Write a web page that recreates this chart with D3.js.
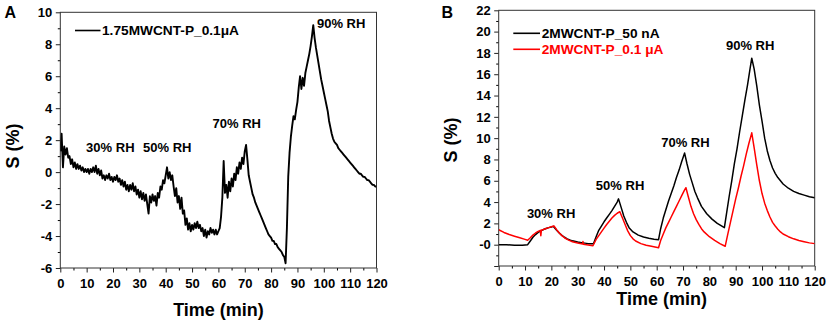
<!DOCTYPE html>
<html><head><meta charset="utf-8">
<script src="https://cdn.jsdelivr.net/npm/d3@7"></script>
<style>
html,body{margin:0;padding:0;background:#fff;}
svg text{font-family:"Liberation Sans",Arial,sans-serif;font-weight:bold;fill:#000;}
</style></head>
<body>
<svg id="c" width="829" height="324"></svg>
<script>
// ---------- Panel A data (1.75MWCNT-P_0.1µA), sampled every 0.5 min ----------
const stepA = 0.5;
const valuesA = [
 1.3,2.4,0.3,1.6,1.1,1.5,0.9,1.0,0.5,0.8, 0.3,0.6,0.2,0.5,0.2,0.4,0.1,0.3,0.0,0.2,
 0.0,0.2,-0.1,0.2,0.0,0.3,0.0,0.4,-0.1,0.2, -0.2,0.1,-0.4,-0.2,-0.5,-0.2,-0.4,-0.1,-0.5,-0.3,
 -0.6,-0.3,-0.5,-0.2,-0.6,-0.4,-0.8,-0.5,-0.9,-0.6, -1.1,-0.8,-1.2,-0.8,-1.1,-0.7,-1.2,-0.9,-1.4,-1.1,
 -1.6,-1.2,-1.7,-1.3,-1.8,-1.4,-2.0,-2.6,-1.5,-1.9, -1.4,-1.8,-1.5,-2.1,-1.3,-1.6,-0.9,-1.1,-0.5,-0.7,
 -0.2,0.3,-0.4,0.0,-0.5,-0.2,-0.9,-1.5,-1.0,-1.9, -1.5,-2.3,-1.6,-2.6,-2.4,-3.3,-2.9,-3.6,-3.2,-3.7,
 -3.3,-3.6,-3.2,-3.5,-3.1,-3.5,-3.3,-3.7,-3.5,-4.0, -3.6,-4.1,-3.7,-3.9,-3.5,-3.8,-3.6,-3.9,-3.6,-3.9,
 -3.7,-3.5,-2.8,-1.6,0.7,-1.3,-0.8,-1.6,-0.6,-1.2, -0.4,-0.9,-0.1,-0.5,0.3,-0.1,0.6,0.2,0.9,0.5,
 1.3,1.7,0.8,-0.2,-0.6,-1.0,-1.4,-1.6,-1.9,-2.1, -2.3,-2.5,-2.7,-2.9,-3.1,-3.3,-3.5,-3.7,-3.9,-4.0,
 -4.1,-4.3,-4.3,-4.5,-4.5,-4.7,-4.8,-4.9,-5.0,-5.2, -5.3,-5.7,-3.5,-0.3,1.2,2.2,2.9,3.5,3.3,3.9,
 4.4,5.3,6.0,5.2,5.9,5.4,6.2,6.6,7.0,7.4, 7.9,8.5,9.2,8.4,7.8,7.3,6.8,6.3,5.8,5.4,
 5.0,4.6,4.2,3.8,3.2,2.8,2.4,2.1,1.9,1.8, 1.7,1.5,1.4,1.3,1.2,1.1,1.0,0.9,0.8,0.7,
 0.6,0.5,0.4,0.3,0.2,0.1,0.0,-0.1,-0.1,-0.2, -0.3,-0.3,-0.4,-0.5,-0.5,-0.6,-0.7,-0.8,-0.8,-0.9,
 -0.9
];
const labelA = "1.75MWCNT-P_0.1\u03bcA";
const annotA = [
  {text:"30% RH", t:9.8, v:1.27},
  {text:"50% RH", t:31.4, v:1.27},
  {text:"70% RH", t:57.8, v:2.74},
  {text:"90% RH", t:97.4, v:9.0}
];
const xTicksA = d3.range(0,121,10);
const yTicksA = d3.range(-6,11,2);

// ---------- Panel B data ----------
const timesB50 = [0,3,6,9,11,12,13,14,15,16,17,18,19,20,20.7,22,23,24,25,26,27,28,30,32,34,36,
 37,38,39,40,41,42,43,44,45,45.5,46.5,47.5,48.5,49.5,51,53,55,57,59,60.7,
 61.5,62.5,63.5,64.5,65.5,66.5,67.5,68.5,69.5,70.6,71.5,72.5,73.5,74.5,75.5,77,79,81,83,85.7,
 86.5,87.5,88.5,89.5,90.5,91.5,92.5,93.5,94.5,95.5,96.1,
 97,98,99,100,101,102,103,104,105,106,107,108,110,112,114,116,118,120];
const valuesB50 = [0.0,0.0,-0.05,-0.05,0.0,0.35,0.7,0.95,1.15,1.3,1.42,1.52,1.6,1.66,1.72,1.35,1.1,0.88,0.7,0.55,0.44,0.36,0.25,0.17,0.1,0.08,
 0.75,1.35,1.75,2.15,2.5,2.85,3.2,3.6,4.0,4.3,3.5,2.7,2.1,1.6,1.2,0.9,0.72,0.6,0.52,0.47,
 1.5,2.5,3.3,4.1,4.8,5.5,6.3,7.0,7.8,8.6,7.6,6.6,5.8,5.0,4.4,3.6,2.9,2.4,2.0,1.6,
 2.9,4.5,6.0,7.6,9.0,10.6,12.1,13.6,15.0,16.6,17.5,
 16.5,14.9,13.1,11.6,10.0,8.8,7.9,7.2,6.7,6.3,6.0,5.7,5.3,5.0,4.8,4.65,4.5,4.4];
const timesB01 = [0,2,4,6,8,10,11,12,13,14,15,15.8,16,16.2,17,18,19,20,21,22,23,24,25,26,27,28,30,31.9,32,32.1,34,35.8,
 37,38,39,40,41,42,43,44,45,46,47,48,49,50,51,52,54,56,58,60.7,
 61.5,62.5,63.5,64.5,65.5,66.5,67.5,68.5,69.5,70.5,71.1,72,73,74,75,76,77,78,80,82,84,86,
 87,88,89,90,91,92,93,94,95,96.1,
 97,98,99,100,101,102,103,104,105,106,107,108,110,112,114,116,118,120];
const valuesB01 = [1.4,1.15,0.95,0.8,0.65,0.5,0.42,0.65,0.9,1.1,1.25,1.35,0.85,1.35,1.42,1.52,1.6,1.68,1.75,1.4,1.1,0.85,0.65,0.5,0.38,0.28,0.15,0.06,0.3,0.05,-0.02,-0.1,
 0.5,0.85,1.2,1.55,1.9,2.2,2.5,2.75,2.95,3.1,2.5,1.9,1.3,0.85,0.55,0.35,0.1,-0.05,-0.15,-0.28,
 0.4,1.0,1.6,2.1,2.6,3.1,3.6,4.1,4.6,5.1,5.35,4.5,3.6,2.9,2.35,1.9,1.5,1.2,0.75,0.4,0.1,-0.15,
 1.0,2.1,3.2,4.3,5.3,6.4,7.4,8.5,9.5,10.5,
 9.1,7.5,6.0,4.8,3.9,3.2,2.6,2.1,1.75,1.45,1.2,1.0,0.75,0.55,0.4,0.28,0.17,0.1];
const labelB50 = "2MWCNT-P_50 nA";
const labelB01 = "2MWCNT-P_0.1 \u03bcA";
const annotB = [
  {text:"30% RH", t:10.7, v:2.5},
  {text:"50% RH", t:36.9, v:5.1},
  {text:"70% RH", t:61.7, v:9.2},
  {text:"90% RH", t:86.3, v:18.3}
];
const xTicksB = d3.range(0,121,10);
const yTicksB = d3.range(-2,23,2);

// ---------- drawing ----------
const svg = d3.select("#c");
svg.append("rect").attr("width",829).attr("height",324).attr("fill","#fff");

function drawPanel(o){
  const g = svg.append("g");
  const x = d3.scaleLinear().domain([0,120]).range([o.x0,o.x1]);
  const y = d3.scaleLinear().domain(o.yDom).range([o.y1,o.y0]);

  // minor ticks
  g.append("g").attr("transform",`translate(0,${o.y1})`)
    .call(d3.axisBottom(x).tickValues(d3.range(5,120,10)).tickSize(2.5).tickFormat(""))
    .call(s=>s.select(".domain").remove());
  g.append("g").attr("transform",`translate(${o.x0},0)`)
    .call(d3.axisLeft(y).tickValues(d3.range(o.yDom[0]+1,o.yDom[1],2)).tickSize(2.5).tickFormat(""))
    .call(s=>s.select(".domain").remove());

  const xa = g.append("g").attr("transform",`translate(0,${o.y1})`)
    .call(d3.axisBottom(x).tickValues(o.xTicks).tickSize(4.5).tickPadding(o.xPad).tickSizeOuter(0));
  const ya = g.append("g").attr("transform",`translate(${o.x0},0)`)
    .call(d3.axisLeft(y).tickValues(o.yTicks).tickSize(4.5).tickPadding(3.5).tickSizeOuter(0).tickFormat(o.yFmt));
  [xa,ya].forEach(a=>{
    a.selectAll("text").style("font-size","13px").style("font-family",'"Liberation Sans",Arial,sans-serif').style("font-weight","bold").attr("fill","#000");
    a.selectAll("line").attr("stroke","#222").attr("stroke-width",1);
    a.select(".domain").remove();
  });
  // frame
  g.append("rect").attr("x",o.x0).attr("y",o.y0).attr("width",o.x1-o.x0).attr("height",o.y1-o.y0)
    .attr("fill","none").attr("stroke","#333").attr("stroke-width",1);

  const clip = "clip"+o.id;
  svg.append("clipPath").attr("id",clip).append("rect")
    .attr("x",o.x0).attr("y",o.y0-2).attr("width",o.x1-o.x0).attr("height",o.y1-o.y0+4);

  o.series.forEach(s=>{
    const pts = s.t.map((t,i)=>[t,s.v[i]]);
    g.append("path").datum(pts)
      .attr("clip-path",`url(#${clip})`)
      .attr("fill","none").attr("stroke",s.color).attr("stroke-width",s.w)
      .attr("stroke-linejoin","round")
      .attr("d",d3.line().x(d=>x(d[0])).y(d=>y(d[1])));
  });

  o.annot.forEach(a=>{
    g.append("text").attr("x",x(a.t)).attr("y",y(a.v)).style("font-size","13px").text(a.text);
  });

  // legend
  o.legend.forEach(l=>{
    g.append("line").attr("x1",l.lx0).attr("x2",l.lx1).attr("y1",l.ly).attr("y2",l.ly)
      .attr("stroke",l.color).attr("stroke-width",1.6);
    g.append("text").attr("x",l.tx).attr("y",l.ty).style("font-size","13.7px")
      .attr("fill",l.color).style("fill",l.color).text(l.text);
  });

  // axis titles
  g.append("text").attr("x",o.xt[0]).attr("y",o.xt[1]).attr("text-anchor","middle")
    .style("font-size","18px").text("Time (min)");
  g.append("text").attr("transform",`translate(${o.yt[0]},${o.yt[1]}) rotate(-90)`)
    .attr("text-anchor","middle").style("font-size","18px").text("S (%)");
  g.append("text").attr("x",o.pl[0]).attr("y",o.pl[1]).style("font-size","16px").text(o.letter);
}

drawPanel({
  id:"A", x0:60.3, x1:376.5, y0:12.3, y1:268, yDom:[-6,10], xPad:6,
  xTicks:xTicksA, yTicks:yTicksA, yFmt:d=>d,
  series:[{t:valuesA.map((v,i)=>i*stepA), v:valuesA, color:"#000", w:1.9}],
  annot:annotA,
  legend:[{lx0:75,lx1:100.5,ly:30.5,tx:102,ty:35.2,color:"#000",text:labelA}],
  xt:[218.5,316], yt:[18.5,146], pl:[4.5,18.3], letter:"A"
});

drawPanel({
  id:"B", x0:498.7, x1:814.7, y0:10.3, y1:266, yDom:[-2,22], xPad:6,
  xTicks:xTicksB, yTicks:yTicksB, yFmt:d=>d===0?"-0":(d===-2?"":d),
  series:[
    {t:timesB50, v:valuesB50, color:"#000", w:1.5},
    {t:timesB01, v:valuesB01, color:"#f00", w:1.5}
  ],
  annot:annotB,
  legend:[
    {lx0:513.3,lx1:540,ly:33.3,tx:541.7,ty:37.8,color:"#000",text:labelB50},
    {lx0:513.3,lx1:540,ly:49.3,tx:541.7,ty:53.8,color:"#f00",text:labelB01}
  ],
  xt:[661.7,305], yt:[456.5,140], pl:[441.5,18.3], letter:"B"
});
</script>
</body></html>
